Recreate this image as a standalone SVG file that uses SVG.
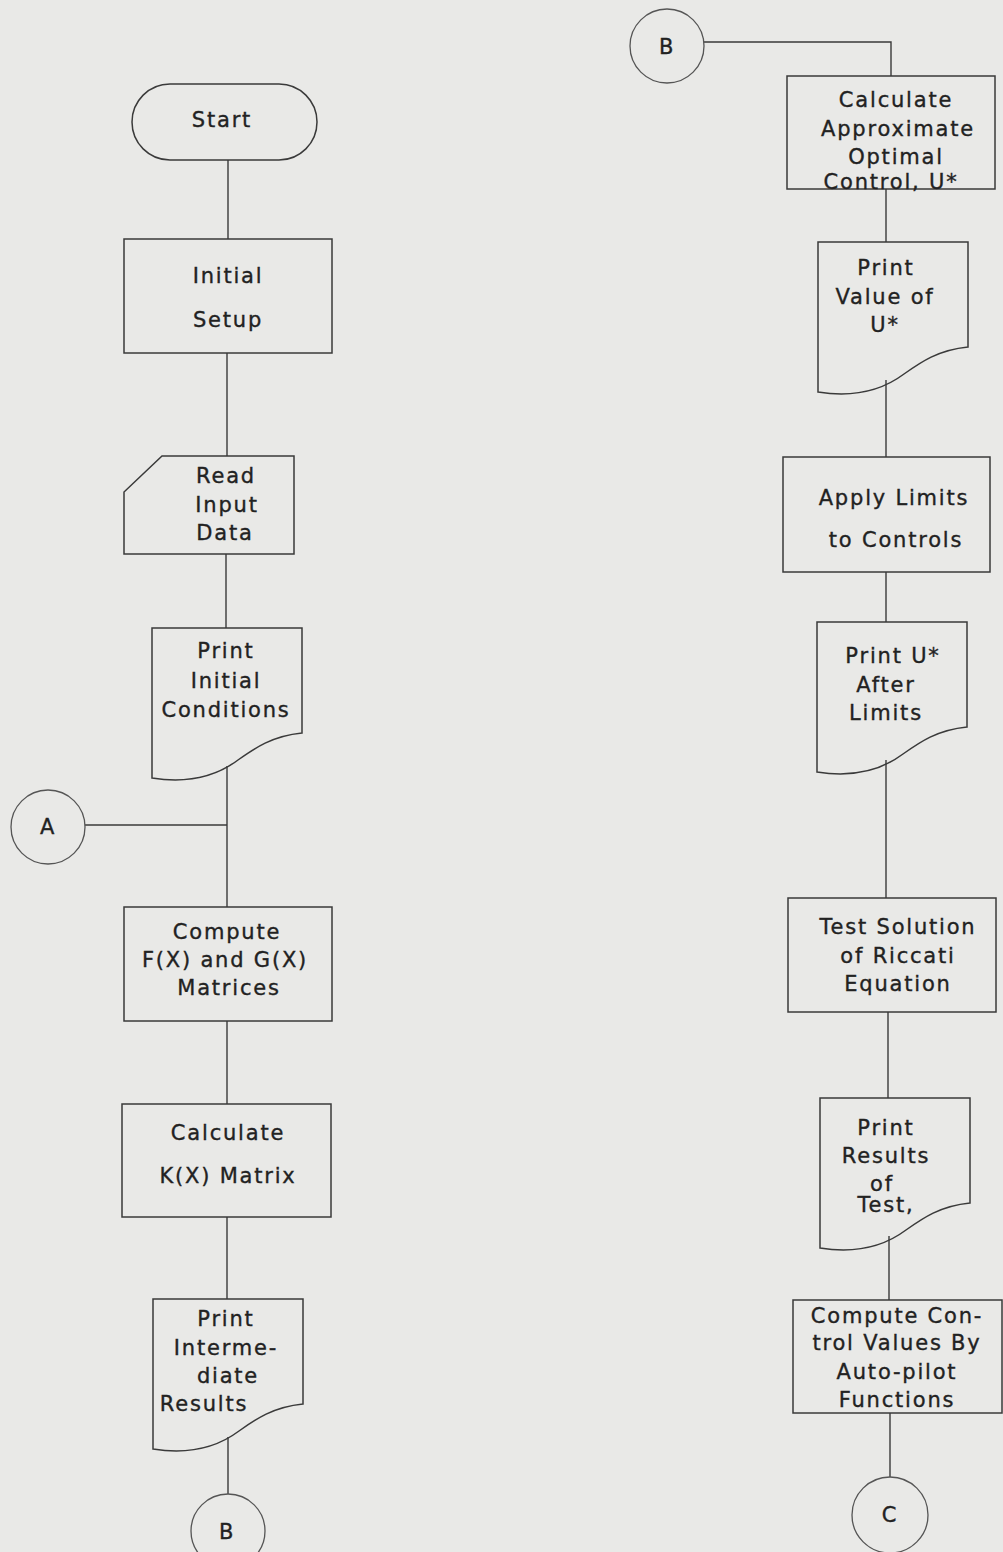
<svg xmlns="http://www.w3.org/2000/svg" xmlns:xlink="http://www.w3.org/1999/xlink" width="1003" height="1552" viewBox="0 0 1003 1552">
<style>
.s{fill:none;stroke:#3a3a3a;stroke-width:1.5}
.c{fill:none;stroke:#555;stroke-width:1.3}
.w{stroke:#3a3a3a;stroke-width:1.4;fill:none}
text{font-family:"DejaVu Sans","Liberation Sans",sans-serif;font-size:21px;fill:#222;stroke:#222;stroke-width:0.35;text-anchor:middle;letter-spacing:1.8px}
</style>
<defs>
<path id="doc" d="M0,0 H150 V105 C120,108 103,120 86,132 C66,147 38,156 0,150 Z"/>
</defs>
<rect width="1003" height="1552" fill="#e9e9e7"/>
<g id="connectors" class="w">
<line x1="228" y1="160" x2="228" y2="239"/>
<line x1="227" y1="353" x2="227" y2="456"/>
<line x1="226" y1="554" x2="226" y2="628"/>
<line x1="227" y1="766" x2="227" y2="907"/>
<line x1="85" y1="825" x2="227" y2="825"/>
<line x1="227" y1="1021" x2="227" y2="1104"/>
<line x1="227" y1="1217" x2="227" y2="1299"/>
<line x1="228" y1="1437" x2="228" y2="1494"/>
<polyline points="704,42 891,42 891,76"/>
<line x1="886" y1="189" x2="886" y2="242"/>
<line x1="886" y1="380" x2="886" y2="457"/>
<line x1="886" y1="572" x2="886" y2="622"/>
<line x1="886" y1="760" x2="886" y2="898"/>
<line x1="888" y1="1012" x2="888" y2="1098"/>
<line x1="889" y1="1236" x2="889" y2="1300"/>
<line x1="890" y1="1413" x2="890" y2="1477"/>
</g>
<g id="start"><rect class="s" x="132" y="84" width="185" height="76" rx="38"/><text x="222" y="127">Start</text></g>
<g id="initial-setup"><rect class="s" x="124" y="239" width="208" height="114"/><text x="228" y="283">Initial</text><text x="228" y="327">Setup</text></g>
<g id="read-input"><path class="s" d="M162,456 H294 V554 H124 V492 Z"/><text x="226" y="483">Read</text><text x="227" y="512">Input</text><text x="225" y="540">Data</text></g>
<g id="print-initial"><use xlink:href="#doc" class="s" x="152" y="628"/><text x="226" y="658">Print</text><text x="226" y="688">Initial</text><text x="226" y="717">Conditions</text></g>
<g id="conn-a"><circle class="c" cx="48" cy="827" r="37"/><text x="48" y="834">A</text></g>
<g id="compute-fg"><rect class="s" x="124" y="907" width="208" height="114"/><text x="227" y="939">Compute</text><text x="225" y="967">F(X) and G(X)</text><text x="229" y="995">Matrices</text></g>
<g id="calc-k"><rect class="s" x="122" y="1104" width="209" height="113"/><text x="228" y="1140">Calculate</text><text x="228" y="1183">K(X) Matrix</text></g>
<g id="print-intermediate"><use xlink:href="#doc" class="s" x="153" y="1299"/><text x="226" y="1326">Print</text><text x="226" y="1355">Interme-</text><text x="228" y="1383">diate</text><text x="204" y="1411">Results</text></g>
<g id="conn-b-bottom"><circle class="c" cx="228" cy="1531" r="37"/><text x="227" y="1539">B</text></g>
<g id="conn-b-top"><circle class="c" cx="667" cy="46" r="37"/><text x="667" y="54">B</text></g>
<g id="calc-approx"><rect class="s" x="787" y="76" width="208" height="113"/><text x="896" y="107">Calculate</text><text x="898" y="136">Approximate</text><text x="896" y="164">Optimal</text><text x="891" y="189">Control, U*</text></g>
<g id="print-value"><use xlink:href="#doc" class="s" x="818" y="242"/><text x="886" y="275">Print</text><text x="885" y="304">Value of</text><text x="885" y="332">U*</text></g>
<g id="apply-limits"><rect class="s" x="783" y="457" width="207" height="115"/><text x="894" y="505">Apply Limits</text><text x="896" y="547">to Controls</text></g>
<g id="print-after"><use xlink:href="#doc" class="s" x="817" y="622"/><text x="893" y="663">Print U*</text><text x="886" y="692">After</text><text x="886" y="720">Limits</text></g>
<g id="test-solution"><rect class="s" x="788" y="898" width="208" height="114"/><text x="898" y="934">Test Solution</text><text x="898" y="963">of Riccati</text><text x="898" y="991">Equation</text></g>
<g id="print-results"><use xlink:href="#doc" class="s" x="820" y="1098"/><text x="886" y="1135">Print</text><text x="886" y="1163">Results</text><text x="882" y="1191">of</text><text x="886" y="1212">Test,</text></g>
<g id="compute-control"><rect class="s" x="793" y="1300" width="209" height="113"/><text x="897" y="1323">Compute Con-</text><text x="897" y="1350">trol Values By</text><text x="897" y="1379">Auto-pilot</text><text x="897" y="1407">Functions</text></g>
<g id="conn-c"><circle class="c" cx="890" cy="1515" r="38"/><text x="890" y="1522">C</text></g>
</svg>
